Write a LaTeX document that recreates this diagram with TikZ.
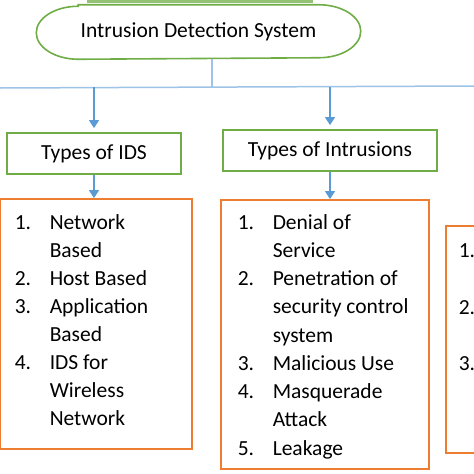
\documentclass[tikz,border=0pt]{standalone}
\usepackage{fontspec}
\setmainfont{Carlito}
\usetikzlibrary{arrows.meta, positioning, calc}
\definecolor{cgreen}{HTML}{70AD47}
\definecolor{corange}{HTML}{ED7D31}
\definecolor{cblue}{HTML}{5B9BD5}
\definecolor{cline}{HTML}{9DC3E6}
\tikzset{
  every picture/.style={font=\fontsize{21.5}{28}\selectfont, line width=1.5pt},
  box/.style={draw=#1, fill=white, inner sep=0pt, line width=1.8pt},
  box/.default=cgreen,
  arrow/.style={-{Triangle[length=8pt, width=10pt]}, draw=cblue, line width=1.2pt},
  item/.style={anchor=base west, inner sep=0pt, text=black},
}

\begin{document}
\begin{tikzpicture}[x=1pt, y=-1pt,
  kind/.style={box=cgreen, minimum height=41pt},
  list/.style={box=corange}]
  \useasboundingbox (0,0) rectangle (474,474);
  \clip (0,0) rectangle (474,474);
  % title
  \fill[cgreen!75] (87,0) rectangle (313,3);
  \node[minimum width=323pt, minimum height=53pt, inner sep=0pt] (ids) at (198.5,32) {Intrusion Detection System};
  \draw[cgreen, line width=1.6pt] ($(ids.north west)+(42,0)$) -- ($(ids.north east)+(-42,0)$)
    arc[start angle=90, end angle=-90, x radius=42pt, y radius=26.5pt]
    -- ($(ids.south west)+(42,0)$)
    arc[start angle=270, end angle=90, x radius=42pt, y radius=26.5pt] -- cycle;
  % bus
  \coordinate (busL) at (0,88);
  \coordinate (busR) at (474,86);
  \coordinate (busM) at (212,87);
  \draw[cline] (busL) -- (busR);
  \draw[cline] (ids.south -| busM) -- (busM);
  % kinds
  \node[kind, minimum width=174pt] (t1) at (94,153.5) {Types of IDS};
  \node[kind, minimum width=214pt] (t2) at (330,150.5) {Types of Intrusions};
  \draw[arrow, shorten >=4pt] (t1.north |- busM) -- (t1.north);
  \draw[arrow, shorten >=4pt] (t2.north |- busM) -- (t2.north);
  % lists
  \node[list, minimum width=192pt, minimum height=250pt] (l1) at (96,324) {};
  \node[list, minimum width=208pt, minimum height=269pt] (l2) at (325,334.5) {};
  \node[list, minimum width=60pt, minimum height=227pt] (l3) at (476,339.5) {};
  \draw[arrow] (t1.south) -- (t1.south |- l1.north);
  \draw[arrow] (t2.south) -- (t2.south |- l2.north);
  \foreach \n/\t/\y [count=\i] in {1./Network/229, {}/Based/257, 2./Host Based/285,
      3./Application/313, {}/Based/341, 4./IDS for/369, {}/Wireless/397, {}/Network/425} {
    \node[item] (na\i) at (14,\y) {\n};
    \node[item] (ta\i) at (49,\y) {\t};
  }
  \foreach \n/\t/\y [count=\i] in {1./Denial of/229, {}/Service/257, 2./Penetration of/285,
      {}/security control/313, {}/system/342, 3./Malicious Use/370, 4./Masquerade/398,
      {}/Attack/426, 5./Leakage/455} {
    \node[item] (nb\i) at (237,\y) {\n};
    \node[item] (tb\i) at (272,\y) {\t};
  }
  \foreach \n/\y [count=\i] in {1./257, 2./314, 3./370}
    \node[item] (nc\i) at (458,\y) {\n};
\end{tikzpicture}
\end{document}
